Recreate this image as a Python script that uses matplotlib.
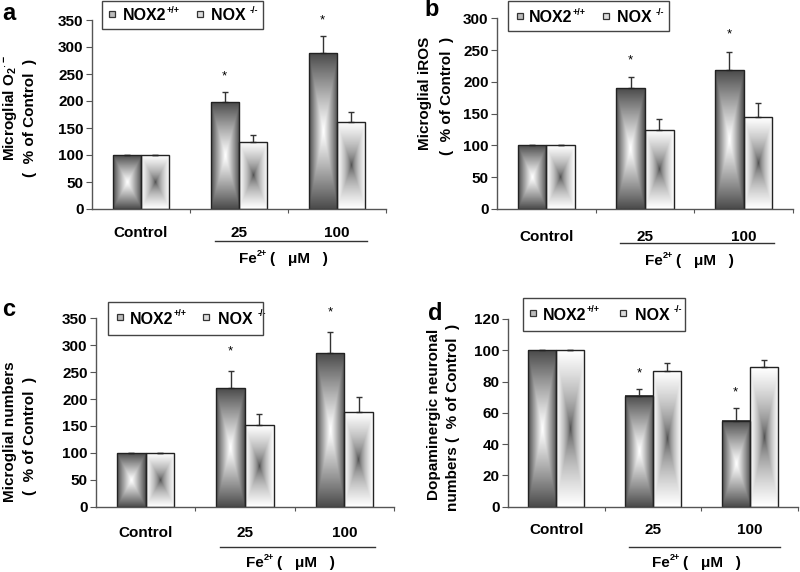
import numpy as np
import matplotlib
matplotlib.use("Agg")
import matplotlib.pyplot as plt
from matplotlib.transforms import blended_transform_factory, ScaledTranslation
from matplotlib.patches import Rectangle

plt.rcParams['font.family'] = ['Liberation Sans', 'DejaVu Sans']
plt.rcParams['font.weight'] = 'bold'
plt.rcParams['mathtext.fontset'] = 'custom'
plt.rcParams['mathtext.rm'] = 'Liberation Sans:bold'
plt.rcParams['mathtext.it'] = 'Liberation Sans:bold'
plt.rcParams['mathtext.bf'] = 'Liberation Sans:bold'

# ---------------- data ----------------
categories = ["Control", "25", "100"]
series_names = ["NOX2", "NOX "]
series_sups = ["+/+", "-/-"]
xgroup_label = ["Fe", "2+", "(   μM   )"]

a_nox2 = [100, 198, 288]
a_nox2_err = [0, 19, 32]
a_nox = [100, 125, 162]
a_nox_err = [0, 12, 18]

b_nox2 = [100, 190, 218]
b_nox2_err = [0, 17, 29]
b_nox = [100, 125, 144]
b_nox_err = [0, 17, 22]

c_nox2 = [100, 221, 286]
c_nox2_err = [0, 31, 39]
c_nox = [100, 152, 176]
c_nox_err = [0, 21, 27]

d_nox2 = [100, 71, 55]
d_nox2_err = [0, 4, 8]
d_nox = [100, 87, 89]
d_nox_err = [0, 5, 5]

a_yticks = [0, 50, 100, 150, 200, 250, 300, 350]
b_yticks = [0, 50, 100, 150, 200, 250, 300]
c_yticks = [0, 50, 100, 150, 200, 250, 300, 350]
d_yticks = [0, 20, 40, 60, 80, 100, 120]

a_ylabel = ["Microglial O$_2$$^{\\cdot-}$", "(  % of Control  )"]
b_ylabel = ["Microglial iROS", "(  % of Control  )"]
c_ylabel = ["Microglial numbers", "(  % of Control  )"]
d_ylabel = ["Dopaminergic neuronal", "numbers (  % of Control  )"]

# ---------------- layout ----------------
W, H = 800, 572
fig = plt.figure(figsize=(W / 100, H / 100), dpi=100)


def px(x, y):
    return x / W, 1 - y / H


def axes_px(left, right, top, bottom):
    return fig.add_axes([left / W, 1 - bottom / H, (right - left) / W, (bottom - top) / H])


def grad(kind, n=80):
    u = np.linspace(-1, 1, n)
    U, V = np.meshgrid(u, u)
    d = np.maximum(np.abs(U), np.abs(V))
    if kind == 0:
        return 1.0 - 0.70 * d ** 1.1
    return 0.25 + 0.75 * d ** 0.55


def panel(ax, nox2, nox2e, nox, noxe, yticks, star_off, lab_dy, line_dy, fe_dy):
    bw = 0.29
    x = np.arange(len(categories))
    for i in range(len(categories)):
        for k, (vals, xs) in enumerate([(nox2, x - bw / 2), (nox, x + bw / 2)]):
            v = vals[i]
            ax.imshow(grad(k), cmap='gray', vmin=0, vmax=1, aspect='auto',
                      extent=[xs[i] - bw / 2, xs[i] + bw / 2, 0, v],
                      interpolation='bilinear', zorder=1)
    ax.bar(x - bw / 2, nox2, bw, facecolor='none', edgecolor='#222222', lw=1.0, zorder=2)
    ax.bar(x + bw / 2, nox, bw, facecolor='none', edgecolor='#222222', lw=1.0, zorder=2)
    ax.errorbar(x - bw / 2, nox2, yerr=[np.zeros(3), nox2e], fmt='none',
                ecolor='#333333', elinewidth=1.0, capsize=2.5, capthick=1.0, zorder=1.5)
    ax.errorbar(x + bw / 2, nox, yerr=[np.zeros(3), noxe], fmt='none',
                ecolor='#333333', elinewidth=1.0, capsize=2.5, capthick=1.0, zorder=1.5)
    for i in range(1, 3):
        ax.text(x[i] - bw / 2, nox2[i] + nox2e[i] + star_off, "*", ha='center',
                va='center', fontsize=9.5, fontweight='normal', clip_on=False)
    ax.set_xlim(-0.5, 2.5)
    ax.set_ylim(0, yticks[-1])
    ax.set_yticks(yticks)
    ax.set_yticklabels([str(t) for t in yticks], fontsize=11, fontweight='bold')
    ax.set_xticks([0.5, 1.5, 2.5])
    ax.set_xticklabels([])
    ax.tick_params(axis='x', direction='out', length=3, width=0.8, color='#555555')
    ax.tick_params(axis='y', direction='out', length=4, width=0.8, color='#555555', pad=2)
    for s in ['top', 'right']:
        ax.spines[s].set_visible(False)
    for s in ['left', 'bottom']:
        ax.spines[s].set_color('#555555')
        ax.spines[s].set_linewidth(1.0)
    for i, c in enumerate(categories):
        ax.annotate(c, xy=(x[i], 0), xycoords=('data', 'axes fraction'),
                    xytext=(0, -lab_dy * 0.72), textcoords='offset points',
                    ha='center', va='center', fontsize=11, fontweight='bold')
    trans = blended_transform_factory(ax.transData, ax.transAxes) + \
        ScaledTranslation(0, -line_dy / 100, fig.dpi_scale_trans)
    ax.plot([0.75, 2.31], [0, 0], transform=trans, color='#333333', lw=1.0, clip_on=False)
    t_fe = ax.annotate(xgroup_label[0], xy=(1.55, 0), xycoords=('data', 'axes fraction'),
                       xytext=(-26, -fe_dy * 0.72), textcoords='offset points',
                       ha='right', va='center', fontsize=11, fontweight='bold',
                       annotation_clip=False)
    t_sup = ax.annotate(xgroup_label[1], xy=(1.0, 0.55), xycoords=t_fe,
                        ha='left', va='bottom', fontsize=6.5, fontweight='bold',
                        annotation_clip=False)
    ax.annotate(xgroup_label[2], xy=(1.0, 0.5), xycoords=(t_sup, t_fe),
                xytext=(2, 0), textcoords='offset points',
                ha='left', va='center', fontsize=11, fontweight='bold',
                annotation_clip=False)


def legend_box(ax, x0, x1, y0, y1, m1, t1, m2, t2, ty):
    fig.patches.append(Rectangle(px(x0, y1), (x1 - x0) / W, (y1 - y0) / H,
                                 transform=fig.transFigure, fill=False,
                                 edgecolor='#444444', lw=1.0))
    for mx, tx, name, sup, fc in [(m1, t1, series_names[0], series_sups[0], '#bbbbbb'),
                                  (m2, t2, series_names[1], series_sups[1], '#dddddd')]:
        fig.patches.append(Rectangle(px(mx - 3, ty + 1), 6 / W, 6 / H,
                                     transform=fig.transFigure, facecolor=fc,
                                     edgecolor='#333333', lw=0.9))
        t = fig.text(*px(tx, ty), name, ha='left', va='center', fontsize=11.5,
                     fontweight='bold')
        ax.annotate(sup, xy=(1.0, 0.55), xycoords=t, ha='left', va='bottom',
                    fontsize=6.5, fontweight='bold', annotation_clip=False)


def ylabel(lines, x1, y1, x2, y2):
    fig.text(*px(x1, y1), lines[0], rotation=90, ha='center', va='center',
             fontsize=11, fontweight='bold')
    fig.text(*px(x2, y2), lines[1], rotation=90, ha='center', va='center',
             fontsize=11, fontweight='bold')


axa = axes_px(92, 386, 20, 209)
panel(axa, a_nox2, a_nox2_err, a_nox, a_nox_err, a_yticks, 29, 24, 32, 50)
axb = axes_px(497, 793, 18.3, 209)
panel(axb, b_nox2, b_nox2_err, b_nox, b_nox_err, b_yticks, 27, 28, 34, 52)
axc = axes_px(96, 394, 318.3, 506.7)
panel(axc, c_nox2, c_nox2_err, c_nox, c_nox_err, c_yticks, 36, 26, 40, 56)
axd = axes_px(508, 798, 319, 506.7)
panel(axd, d_nox2, d_nox2_err, d_nox, d_nox_err, d_yticks, 10, 23, 40, 56)

legend_box(axa, 102, 263, 1, 29, 112, 123, 200, 211, 16)
legend_box(axb, 508, 669, 1, 31, 520, 529, 606, 617, 18)
legend_box(axc, 108, 263, 302, 335, 120, 130, 206, 218, 319)
legend_box(axd, 523, 685, 298, 331, 533, 543, 623, 635, 315)

ylabel(a_ylabel, 10, 108, 30, 118)
ylabel(b_ylabel, 425, 93, 447, 96)
ylabel(c_ylabel, 10, 432, 30, 436)
ylabel(d_ylabel, 434, 414, 453, 417)

for lab, (lx, ly) in zip("abcd", [(9, 14), (432, 10), (9, 310), (435, 314)]):
    fig.text(*px(lx, ly), lab, ha='center', va='center', fontsize=17, fontweight='bold')

fig.savefig("out.png", dpi=100)
